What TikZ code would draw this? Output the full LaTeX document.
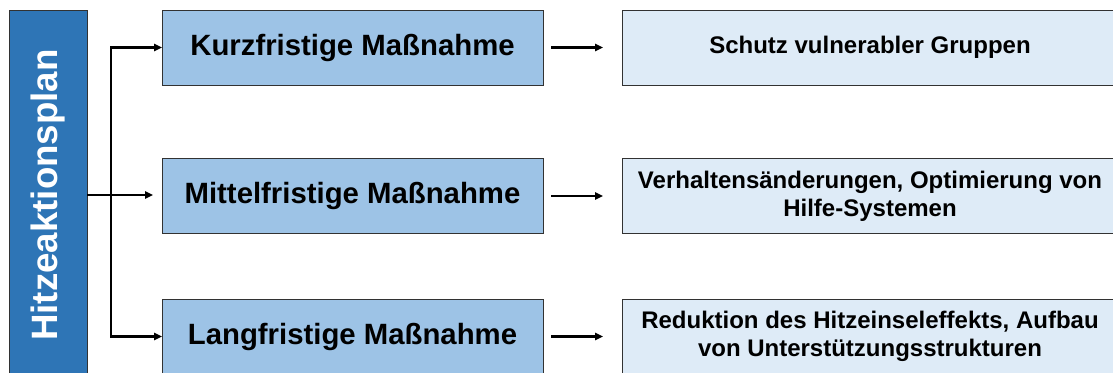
\documentclass[tikz,border=0pt]{standalone}
\usepackage{fontspec}
\setmainfont{Liberation Sans}
\usetikzlibrary{arrows.meta}
\tikzset{every picture/.style={line width=0.75pt}}
\definecolor{plandark}{RGB}{46,117,182}
\definecolor{planmid}{RGB}{157,195,230}
\definecolor{planlight}{RGB}{222,235,247}
\definecolor{planedge}{RGB}{50,50,50}

\begin{document}
\begin{tikzpicture}[x=0.75pt,y=0.75pt,yscale=-1,xscale=1,
	termbox/.style={draw=planedge, fill=planmid, minimum width=285.75pt, minimum height=56.25pt, inner sep=0pt, outer sep=0pt, font=\fontsize{22}{26}\selectfont\bfseries},
	goalbox/.style={draw=planedge, fill=planlight, minimum width=372pt, minimum height=56.25pt, inner sep=0pt, outer sep=0pt, align=center, font=\fontsize{18}{21}\selectfont\bfseries},
	flow/.style={line width=1.9pt, -{Triangle[length=6pt,width=5.5pt]}}]
			\useasboundingbox (0,0) rectangle (1113,372);
			\clip (0,0) rectangle (1113,372);
			
			%Plan bar
			\node [draw=planedge, fill=plandark, rotate=90, minimum width=277.5pt, minimum height=58.5pt, inner sep=0pt, outer sep=0pt, text=white, font=\fontsize{27.5}{33}\selectfont\bfseries] (plan) at (48,195) {Hitzeaktionsplan};
			
			%Measures
			\node [termbox] (kurz) at (352.5,47.5) {Kurzfristige Maßnahme};
			\node [termbox] (mittel) at (352.5,196) {Mittelfristige Maßnahme};
			\node [termbox] (lang) at (352.5,336.5) {Langfristige Maßnahme};
			
			%Goals
			\node [goalbox] (kurzziel) at (870,47.5) {Schutz vulnerabler Gruppen};
			\node [goalbox] (mittelziel) at (870,196) {Verhaltensänderungen, Optimierung von\\Hilfe-Systemen};
			\node [goalbox] (langziel) at (870,336.5) {Reduktion des Hitzeinseleffekts, Aufbau\\von Unterstützungsstrukturen};
			
			%Fork
			\coordinate (fork) at (111,195);
			\draw [flow, shorten >=6.75pt] (plan.south) -- (mittel.west |- plan.south);
			\draw [flow] (fork) |- (kurz.west);
			\draw [flow] (fork) |- (lang.west);
			
			%Arrows to goals
			\draw [flow, shorten <=6pt, shorten >=14.25pt] (kurz.east) -- (kurzziel.west);
			\draw [flow, shorten <=6pt, shorten >=14.25pt] (mittel.east) -- (mittelziel.west);
			\draw [flow, shorten <=6pt, shorten >=14.25pt] (lang.east) -- (langziel.west);
			
		\end{tikzpicture}
\end{document}
